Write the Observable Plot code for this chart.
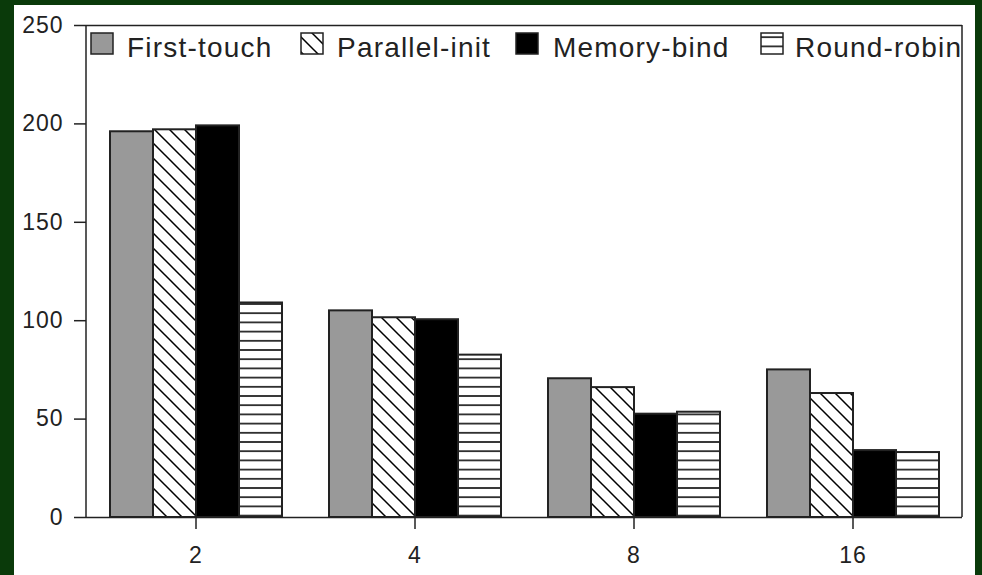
<!DOCTYPE html>
<html><head><meta charset="utf-8">
<script src="https://cdn.jsdelivr.net/npm/d3@7"></script>
<script src="https://cdn.jsdelivr.net/npm/@observablehq/plot@0.6"></script>
<style>
html,body{margin:0;padding:0;background:#0a3a0a;width:982px;height:575px;overflow:hidden;}
#panel{position:absolute;left:14px;top:5px;width:961px;height:570px;background:#fff;}
</style></head>
<body>
<div id="panel"></div>
<script>
const groups = ["2", "4", "8", "16"];
const series = ["First-touch", "Parallel-init", "Memory-bind", "Round-robin"];
const firstTouch = [196, 105, 70.5, 75];
const parallelInit = [197, 101.5, 66, 63];
const memoryBind = [199, 100.5, 52.5, 34];
const roundRobin = [109, 82.5, 53.5, 33];
const yTicks = [0, 50, 100, 150, 200, 250];
const fills = ["#999999", "url(#diag)", "#000000", "url(#horiz)"];

const values = [firstTouch, parallelInit, memoryBind, roundRobin];
const data = [];
groups.forEach((g, i) => series.forEach((s, j) => data.push({group: g, series: s, value: values[j][i]})));

const ink = "#222";
const chart = Plot.plot({
  width: 961, height: 570,
  marginLeft: 71, marginRight: 12, marginTop: 20, marginBottom: 58,
  style: {fontFamily: "'Liberation Sans', Arial, sans-serif", fontSize: "23px", color: ink, background: "transparent", overflow: "visible", letterSpacing: "1px"},
  fx: {domain: groups, padding: 0, label: null},
  x: {domain: series, paddingInner: 0, paddingOuter: 0.5, axis: null},
  y: {domain: [0, 250], label: null},
  color: {domain: series, range: fills},
  marks: [
    Plot.axisY({ticks: yTicks, tickSize: 12, tickPadding: 11, label: null, strokeWidth: 1.5}),
    Plot.axisFx({anchor: "bottom", tickSize: 12, tickPadding: 17, label: null, strokeWidth: 1.5}),
    Plot.barY(data, {fx: "group", x: "series", y: "value", fill: "series", stroke: ink, strokeWidth: 2}),
    Plot.ruleY([0, 250], {stroke: ink, strokeWidth: 1.5})
  ]
});

// patterns
const svg = d3.select(chart);
const defs = svg.insert("defs", ":first-child");
const pd = defs.append("pattern").attr("id", "diag").attr("patternUnits", "userSpaceOnUse").attr("width", 15).attr("height", 15);
pd.append("rect").attr("width", 15).attr("height", 15).attr("fill", "#fff");
pd.append("path").attr("d", "M-4,11 l8,8 M0,0 l15,15 M11,-4 l8,8").attr("stroke", "#000").attr("stroke-width", 1.5);
const ph = defs.append("pattern").attr("id", "horiz").attr("patternUnits", "userSpaceOnUse").attr("width", 10).attr("height", 9.2);
ph.append("rect").attr("width", 10).attr("height", 9.2).attr("fill", "#fff");
ph.append("line").attr("x1", 0).attr("x2", 10).attr("y1", 4.6).attr("y2", 4.6).attr("stroke", "#000").attr("stroke-width", 1.5);

// left/right frame lines from the scales
const fx = chart.scale("fx"), y = chart.scale("y");
const xl = fx.apply(groups[0]), xr = fx.apply(groups[groups.length - 1]) + fx.bandwidth;
[xl, xr].forEach(x => svg.append("line").attr("x1", x).attr("x2", x)
  .attr("y1", y.apply(250)).attr("y2", y.apply(0)).attr("stroke", ink).attr("stroke-width", 1.5));

// legend inside the frame
const legendPos = [[77, 113], [287, 323], [502, 539], [747, 781]];
const lg = svg.append("g").attr("font-size", 28).attr("font-family", "'Liberation Sans', Arial, sans-serif")
  .attr("letter-spacing", "1.2px").attr("text-anchor", "start");
series.forEach((s, j) => {
  const [sx, tx] = legendPos[j];
  lg.append("rect").attr("x", sx).attr("y", 28).attr("width", 22).attr("height", 21)
    .attr("fill", fills[j]).attr("stroke", ink).attr("stroke-width", 1.5);
  lg.append("text").attr("x", tx).attr("y", 52).attr("fill", ink).text(s);
});

document.getElementById("panel").appendChild(chart);
</script>
</body></html>
